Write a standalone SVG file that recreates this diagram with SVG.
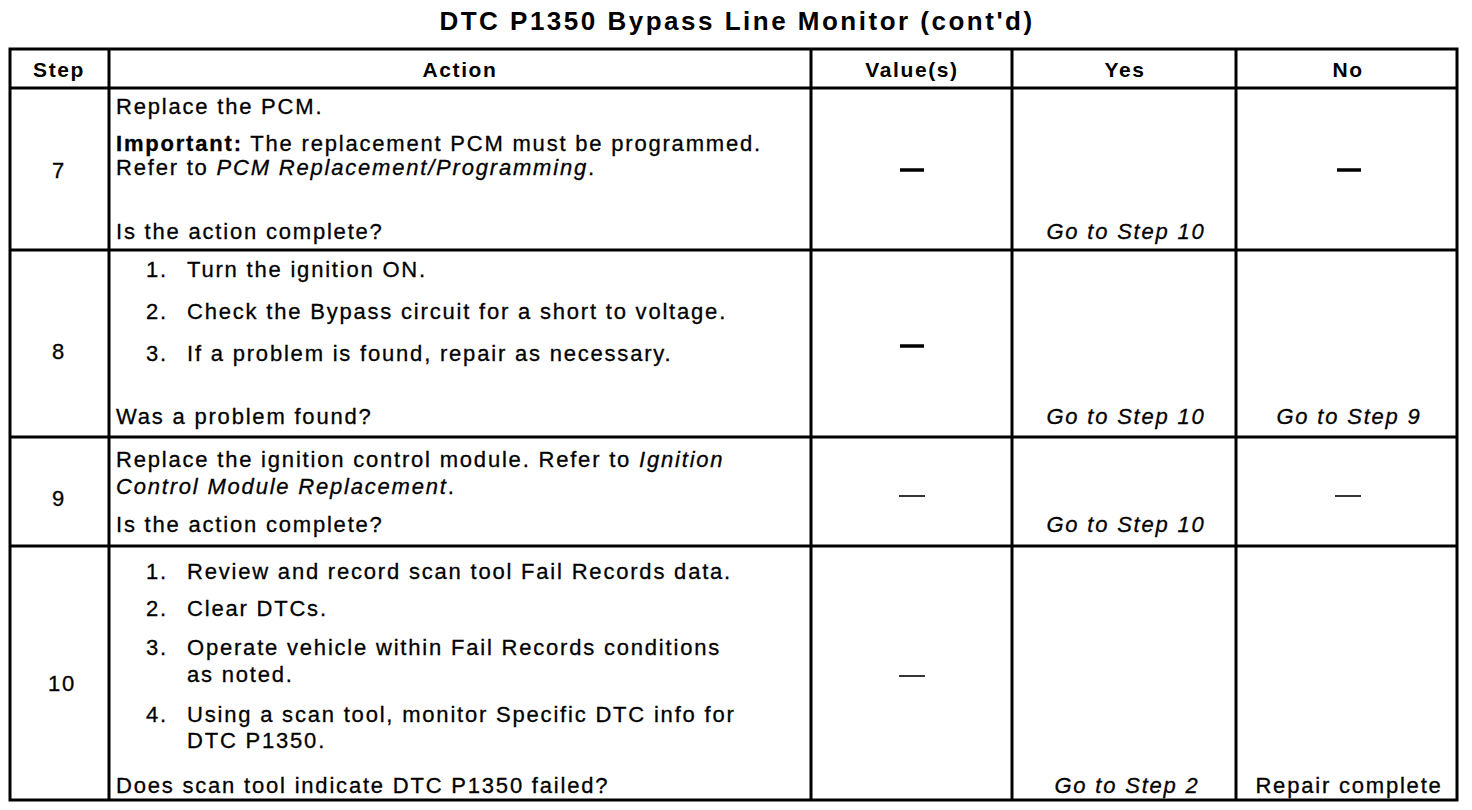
<svg xmlns="http://www.w3.org/2000/svg" width="1472" height="810" viewBox="0 0 1472 810">
<style>
text{font-family:"Liberation Sans",Arial,sans-serif;fill:#000}
.t{font-size:22px;letter-spacing:1.8px;stroke:#000;stroke-width:0.3}
.h{font-size:21px;font-weight:bold;letter-spacing:1.6px;text-anchor:middle}
.c{text-anchor:middle}
.i{font-style:italic}
.b{font-weight:bold}
.ttl{font-size:26px;font-weight:bold;letter-spacing:2.5px;text-anchor:middle}
.ln{stroke:#000;stroke-width:3;fill:none}
.dk{stroke:#000;stroke-width:3.5}
.dt{stroke:#000;stroke-width:1.6}
</style>
<rect width="1472" height="810" fill="#fff"/>
<text class="ttl" x="737" y="30">DTC P1350 Bypass Line Monitor (cont'd)</text>
<g id="grid">
<rect class="ln" x="10" y="49" width="1447" height="751"/>
<line class="ln" x1="10" y1="88" x2="1457" y2="88"/>
<line class="ln" x1="10" y1="250" x2="1457" y2="250"/>
<line class="ln" x1="10" y1="437" x2="1457" y2="437"/>
<line class="ln" x1="10" y1="546" x2="1457" y2="546"/>
<line class="ln" x1="109" y1="49" x2="109" y2="800"/>
<line class="ln" x1="811" y1="49" x2="811" y2="800"/>
<line class="ln" x1="1012" y1="49" x2="1012" y2="800"/>
<line class="ln" x1="1236" y1="49" x2="1236" y2="800"/>
</g>
<g id="header">
<text class="h" x="59" y="77">Step</text>
<text class="h" x="460" y="77">Action</text>
<text class="h" x="912" y="77">Value(s)</text>
<text class="h" x="1125" y="77">Yes</text>
<text class="h" x="1348" y="77">No</text>
</g>
<g id="step7">
<text class="t c" x="59" y="178">7</text>
<text class="t" x="116" y="114">Replace the PCM.</text>
<text class="t" x="116" y="151"><tspan class="b">Important:</tspan> The replacement PCM must be programmed.</text>
<text class="t" x="116" y="175">Refer to <tspan class="i">PCM Replacement/Programming</tspan>.</text>
<text class="t" x="116" y="239">Is the action complete?</text>
<line class="dk" x1="900" y1="170" x2="924" y2="170"/>
<text class="t i c" x="1126" y="239">Go to Step 10</text>
<line class="dk" x1="1337" y1="170" x2="1361" y2="170"/>
</g>
<g id="step8">
<text class="t c" x="59" y="359">8</text>
<text class="t" x="146" y="277">1.</text><text class="t" x="187" y="277">Turn the ignition ON.</text>
<text class="t" x="146" y="319">2.</text><text class="t" x="187" y="319">Check the Bypass circuit for a short to voltage.</text>
<text class="t" x="146" y="361">3.</text><text class="t" x="187" y="361">If a problem is found, repair as necessary.</text>
<text class="t" x="116" y="424">Was a problem found?</text>
<line class="dk" x1="900" y1="346" x2="924" y2="346"/>
<text class="t i c" x="1126" y="424">Go to Step 10</text>
<text class="t i c" x="1349" y="424">Go to Step 9</text>
</g>
<g id="step9">
<text class="t c" x="59" y="506">9</text>
<text class="t" x="116" y="467">Replace the ignition control module. Refer to <tspan class="i">Ignition</tspan></text>
<text class="t i" x="116" y="494">Control Module Replacement<tspan font-style="normal">.</tspan></text>
<text class="t" x="116" y="532">Is the action complete?</text>
<line class="dt" x1="899" y1="496" x2="925" y2="496"/>
<text class="t i c" x="1126" y="532">Go to Step 10</text>
<line class="dt" x1="1335" y1="496" x2="1361" y2="496"/>
</g>
<g id="step10">
<text class="t c" x="62" y="691">10</text>
<text class="t" x="146" y="579">1.</text><text class="t" x="187" y="579">Review and record scan tool Fail Records data.</text>
<text class="t" x="146" y="616">2.</text><text class="t" x="187" y="616">Clear DTCs.</text>
<text class="t" x="146" y="655">3.</text><text class="t" x="187" y="655">Operate vehicle within Fail Records conditions</text>
<text class="t" x="187" y="682">as noted.</text>
<text class="t" x="146" y="722">4.</text><text class="t" x="187" y="722">Using a scan tool, monitor Specific DTC info for</text>
<text class="t" x="187" y="748">DTC P1350.</text>
<text class="t" x="116" y="793">Does scan tool indicate DTC P1350 failed?</text>
<line class="dt" x1="899" y1="676" x2="925" y2="676"/>
<text class="t i c" x="1127" y="793">Go to Step 2</text>
<text class="t c" x="1349" y="793">Repair complete</text>
</g>
</svg>
